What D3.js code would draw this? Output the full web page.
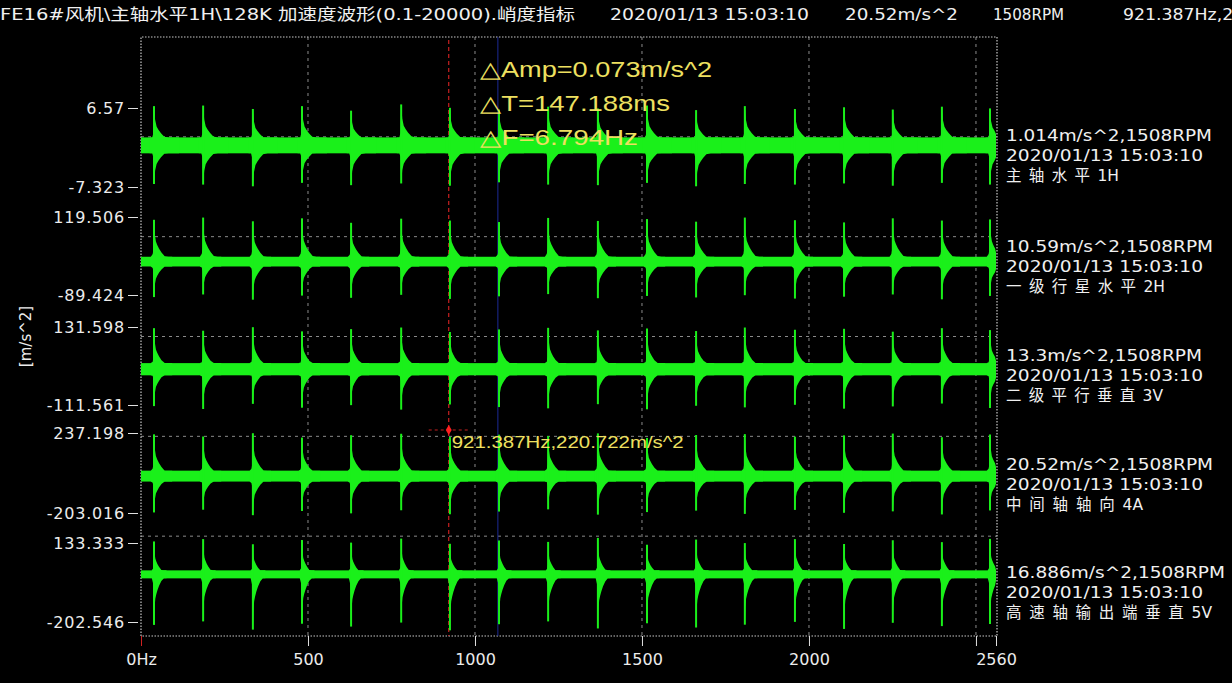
<!DOCTYPE html>
<html><head><meta charset="utf-8">
<script src="https://cdn.jsdelivr.net/npm/d3@7"></script>
<style>html,body{margin:0;padding:0;background:#000;overflow:hidden}</style>
</head><body>
<svg id="c" width="1232" height="683"></svg>
<script>
// ---------------- data ----------------
const titleMain = "FE16#风机\\主轴水平1H\\128K 加速度波形(0.1-20000).峭度指标";
const titleTime = "2020/01/13 15:03:10";
const titleValue = "20.52m/s^2";
const titleRpm = "1508RPM";
const titleCursor = "921.387Hz,220.722m/s^2";

const channelNames = ["主轴水平1H","一级行星水平2H","二级平行垂直3V","中间轴轴向4A","高速轴输出端垂直5V"];
const channelRms = ["1.014","10.59","13.3","20.52","16.886"];
const channelRpm = "1508RPM";
const channelTime = "2020/01/13 15:03:10";

const yMaxTicks = [6.57, 119.506, 131.598, 237.198, 133.333];
const yMinTicks = [-7.323, -89.424, -111.561, -203.016, -202.546];
const yUnit = "[m/s^2]";

const xTickValues = [0, 500, 1000, 1500, 2000, 2500, 2560];
const xTickLabels = ["0Hz", "500", "1000", "1500", "2000", "", "2560"];
const xGridValues = [500, 1000, 1500, 2000, 2500];

// impulse positions (x units)
const impulseX = [39, 186, 335, 482, 629, 779, 925, 1072, 1219, 1368, 1515, 1662, 1808, 1958, 2105, 2251, 2398, 2542];
// peak values per channel, per impulse
const peakUp1 = [6.9, 7.0, 6.4, 6.9, 6.1, 7.2, 6.6, 6.3, 6.8, 6.5, 7.0, 6.2, 6.9, 6.4, 6.7, 6.3, 6.8, 6.5];
const peakDn1 = [-6.8, -6.9, -7.2, -6.6, -7.0, -6.7, -7.1, -6.5, -6.9, -7.0, -6.6, -7.2, -6.8, -6.9, -6.7, -7.1, -6.6, -6.9];
const peakUp2 = [112, 118, 108, 116, 104, 115, 110, 106, 117, 109, 114, 107, 118, 111, 105, 116, 110, 113];
const peakDn2 = [-95, -88, -102, -91, -97, -89, -100, -93, -87, -98, -92, -96, -90, -99, -94, -88, -101, -92];
const peakUp3 = [128, 120, 131, 118, 125, 130, 116, 124, 129, 121, 127, 119, 130, 123, 126, 117, 128, 122];
const peakDn3 = [-115, -124, -108, -120, -112, -126, -110, -118, -122, -109, -125, -114, -119, -111, -123, -116, -107, -121];
const peakUp4 = [230, 218, 236, 212, 225, 233, 215, 228, 220, 235, 210, 226, 231, 217, 224, 234, 214, 229];
const peakDn4 = [-200, -185, -215, -192, -205, -188, -210, -195, -183, -212, -198, -190, -208, -186, -202, -194, -211, -189];
const peakUp5 = [140, 150, 128, 146, 135, 152, 130, 144, 138, 155, 126, 148, 133, 150, 129, 145, 137, 151];
const peakDn5 = [-215, -200, -235, -210, -222, -205, -238, -212, -200, -230, -208, -226, -214, -202, -232, -206, -220, -211];
const noiseAmp = [1.4, 13, 19, 30, 17];

const cursorA = 921.387;
const cursorB = 1068.575;
const cursorValue = 220.722;
const deltaLines = ["△Amp=0.073m/s^2", "△T=147.188ms", "△F=6.794Hz"];

// ---------------- layout ----------------
const W = 1232, H = 683;
const L = 141, R = 997, T = 37, B = 636;
const panelTopPx = [108, 217, 327, 433, 543];
const panelBotPx = [187, 295, 405, 513, 622];
const bodyScale = [1.1, 0.8, 0.8, 0.8, 0.55];
const rightLabelY = [141, 252, 361, 470, 578];
const rmsWidths = [206, 207, 196, 207, 219];
const nameWidths = [113, 159, 157, 137, 206];
const green = "#1af01a";
const fontFam = "'DejaVu Sans','Noto Sans CJK SC',sans-serif";

const svg = d3.select("#c");
svg.append("rect").attr("width", W).attr("height", H).attr("fill", "#000");

const x = d3.scaleLinear().domain([0, 2560]).range([L, 996]);
const yScales = yMaxTicks.map((mx, i) => d3.scaleLinear().domain([yMinTicks[i], mx]).range([panelBotPx[i], panelTopPx[i]]));

// title
const tg = svg.append("g").attr("font-family", fontFam).attr("font-size", 16).attr("fill", "#f0f0f0");
[[titleMain, 0, 575], [titleTime, 610, 199], [titleValue, 845, 113], [titleRpm, 993, 71], [titleCursor, 1123, 228]]
  .forEach(([s, px, w]) => tg.append("text").attr("x", px).attr("y", 20).text(s)
    .attr("textLength", w).attr("lengthAdjust", "spacingAndGlyphs"));

// grid
const grid = svg.append("g").attr("stroke", "#8a8a8a").attr("stroke-width", 1).attr("stroke-dasharray", "3,4");
xGridValues.forEach(v => grid.append("line")
  .attr("x1", x(v)).attr("x2", x(v)).attr("y1", T).attr("y2", B));
d3.range(1, 6).forEach(k => {
  const gy = T + k * (B - T) / 6;
  grid.append("line").attr("x1", L).attr("x2", R).attr("y1", gy).attr("y2", gy);
});

// frame (dotted)
svg.append("path").attr("d", `M${L},${B}V${T}H${R}V${B}H${L}`)
  .attr("stroke", "#c8c8c8").attr("stroke-width", 1.2).attr("stroke-dasharray", "1.5,1.5").attr("fill", "none");

// cursor lines (behind waveform)
svg.append("line").attr("x1", x(cursorB)).attr("x2", x(cursorB)).attr("y1", T).attr("y2", B)
  .attr("stroke", "#1c2a96").attr("stroke-width", 1);
svg.append("line").attr("x1", x(cursorA)).attr("x2", x(cursorA)).attr("y1", T + 3).attr("y2", B)
  .attr("stroke", "#c82020").attr("stroke-width", 1.2).attr("stroke-dasharray", "4,3");

// waveforms
const profOff = [-12, -5, -2, 0, 3, 7, 12, 19, 28, 40, 54, 68];
const profTop = [0, 0.18, 0.3, 1, 0.65, 0.48, 0.4, 0.31, 0.22, 0.13, 0.06, 0];
const ups = [peakUp1, peakUp2, peakUp3, peakUp4, peakUp5];
const dns = [peakDn1, peakDn2, peakDn3, peakDn4, peakDn5];
const wave = svg.append("g");
yScales.forEach((ys, i) => {
  const n = noiseAmp[i];
  wave.append("rect").attr("x", x(0)).attr("width", x(2560) - x(0))
    .attr("y", ys(n)).attr("height", ys(-n) - ys(n)).attr("fill", green);
  const area = d3.area().x(d => x(d.t)).y0(d => ys(d.lo)).y1(d => ys(d.hi));
  impulseX.forEach((t0, k) => {
    const U = ups[i][k], D = dns[i][k];
    const pts = profOff.map((o, j) => ({
      t: Math.max(0, Math.min(2560, t0 + o * bodyScale[i])),
      hi: Math.max(n, U * profTop[j]),
      lo: Math.min(-n, D * profTop[j])
    }));
    wave.append("path").datum(pts).attr("d", area).attr("fill", green);
    wave.append("line").attr("x1", x(t0)).attr("x2", x(t0)).attr("y1", ys(U)).attr("y2", ys(D))
      .attr("stroke", green).attr("stroke-width", 2);
  });
});

// left axes
const axG = svg.append("g").attr("font-family", fontFam);
yScales.forEach((ys, i) => {
  const g = axG.append("g").attr("transform", `translate(${L - 3},0)`)
    .call(d3.axisLeft(ys).tickValues([yMaxTicks[i], yMinTicks[i]]).tickSize(10).tickPadding(3).tickFormat(d => String(d)));
  g.select(".domain").remove();
  g.selectAll(".tick line").attr("stroke", "#e0e0e0");
  g.selectAll(".tick text").attr("fill", "#ececec").attr("font-size", 16).attr("font-family", fontFam)
    .attr("letter-spacing", 0.8);
});
axG.append("text").attr("transform", `translate(31,${(T + B) / 2}) rotate(-90)`)
  .attr("text-anchor", "middle").attr("fill", "#ececec").attr("font-size", 15).text(yUnit);

// bottom axis
const bx = svg.append("g").attr("transform", `translate(0,${B})`)
  .call(d3.axisBottom(x).tickValues(xTickValues).tickSize(10).tickPadding(8).tickFormat((d, i) => xTickLabels[i]));
bx.select(".domain").remove();
bx.selectAll(".tick line").attr("stroke", (d, i) => i === 0 ? "#d02020" : "#e0e0e0");
bx.selectAll(".tick text").attr("fill", "#ececec").attr("font-size", 16).attr("font-family", fontFam);

// right labels
const rl = svg.append("g").attr("font-family", fontFam).attr("font-size", 15.5).attr("fill", "#f0f0f0");
yScales.forEach((ys, i) => {
  const y0 = rightLabelY[i];
  rl.append("text").attr("x", 1006).attr("y", y0).text(channelRms[i] + "m/s^2," + channelRpm)
    .attr("textLength", rmsWidths[i]).attr("lengthAdjust", "spacingAndGlyphs");
  rl.append("text").attr("x", 1006).attr("y", y0 + 20).text(channelTime)
    .attr("textLength", 197).attr("lengthAdjust", "spacingAndGlyphs");
  const m = channelNames[i].match(/^(.*?)([0-9A-Za-z]+)$/);
  const t = rl.append("text").attr("x", 1006).attr("y", y0 + 40);
  const cjk = t.append("tspan").text(m[1]);
  t.append("tspan").text(m[2]);
  const natural = t.node().getComputedTextLength();
  const nChars = [...m[1]].length;
  const ls = Math.max(0, (nameWidths[i] - natural) / nChars);
  cjk.attr("letter-spacing", ls);
});

// cursor marker and labels
const ys4 = yScales[3];
const cy = ys4(cursorValue) - 6;
svg.append("line").attr("x1", x(cursorA) - 20).attr("x2", x(cursorA) + 20).attr("y1", cy).attr("y2", cy)
  .attr("stroke", "#c02020").attr("stroke-dasharray", "3,3");
svg.append("path").attr("transform", `translate(${x(cursorA)},${cy})`)
  .attr("d", d3.symbol(d3.symbolDiamond, 30)).attr("fill", "#ff2020");
svg.append("text").attr("x", x(cursorA) + 3).attr("y", cy + 18)
  .attr("font-family", "'Liberation Sans',Arial,sans-serif").attr("font-size", 16).attr("fill", "#eee060")
  .text(titleCursor).attr("textLength", 232).attr("lengthAdjust", "spacingAndGlyphs");
deltaLines.forEach((s, i) => svg.append("text").attr("x", 480).attr("y", 77 + i * 34)
  .attr("font-family", "'Liberation Sans',Arial,sans-serif").attr("font-size", 22).attr("fill", "#eee060")
  .text(s).attr("textLength", [232, 190, 158][i]).attr("lengthAdjust", "spacingAndGlyphs"));
</script>
</body></html>
